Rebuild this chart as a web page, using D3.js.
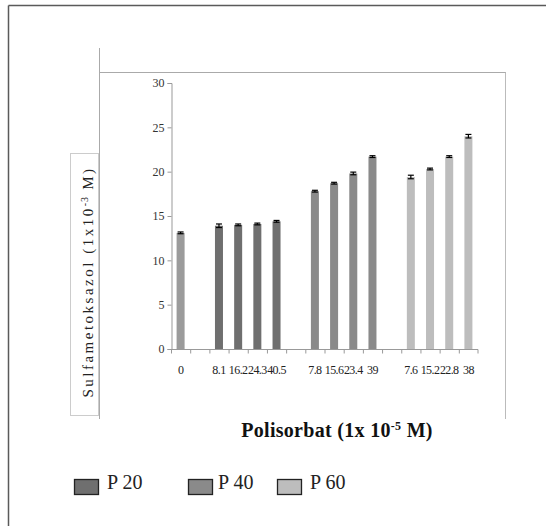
<!DOCTYPE html>
<html>
<head>
<meta charset="utf-8">
<script src="https://cdn.jsdelivr.net/npm/d3@7"></script>
<style>
  body { margin: 0; background: #fff; }
</style>
</head>
<body>
<svg id="chart" width="546" height="526"></svg>
<script>
var SERIF = "'Liberation Serif', 'DejaVu Serif', serif";

// categories on the x axis (blank ones are the gaps between groups)
var categories = ["c0", "g1", "a1", "a2", "a3", "a4", "g2", "b1", "b2", "b3", "b4", "g3", "d1", "d2", "d3", "d4"];
var tickLabels = ["0", "", "8.1", "16.2", "24.3", "40.5", "", "7.8", "15.6", "23.4", "39", "", "7.6", "15.2", "22.8", "38"];
var series = ["control", "", "P 20", "P 20", "P 20", "P 20", "", "P 40", "P 40", "P 40", "P 40", "", "P 60", "P 60", "P 60", "P 60"];
var values = [13.1, null, 13.9, 14.0, 14.1, 14.4, null, 17.8, 18.7, 19.8, 21.7, null, 19.4, 20.3, 21.7, 24.0];
var errors = [0.1, null, 0.2, 0.1, 0.1, 0.1, null, 0.1, 0.1, 0.15, 0.1, null, 0.2, 0.1, 0.1, 0.2];
var yTicks = [0, 5, 10, 15, 20, 25, 30];
var legendNames = ["P 20", "P 40", "P 60"];

var colors = { "control": "#9b9b9b", "P 20": "#6f6f6f", "P 40": "#8a8a8a", "P 60": "#bdbdbd" };

var svg = d3.select("#chart").attr("font-family", SERIF);

// outer frame (top and left edges)
svg.append("line")
    .attr("x1", 8.5).attr("y1", 5.5).attr("x2", 546).attr("y2", 5.5)
    .attr("stroke", "#5a5a5a").attr("stroke-width", 1.5);
svg.append("line")
    .attr("x1", 8.5).attr("y1", 5.5).attr("x2", 8.5).attr("y2", 526)
    .attr("stroke", "#5a5a5a").attr("stroke-width", 1.5);

// chart area frame
svg.append("line")
    .attr("x1", 99.5).attr("y1", 48).attr("x2", 99.5).attr("y2", 419)
    .attr("stroke", "#aaa");
svg.append("line")
    .attr("x1", 99.5).attr("y1", 72.5).attr("x2", 506).attr("y2", 72.5)
    .attr("stroke", "#aaa");
svg.append("line")
    .attr("x1", 505.5).attr("y1", 72.5).attr("x2", 505.5).attr("y2", 419)
    .attr("stroke", "#bbb");

var xb = d3.scaleBand().domain(categories).range([171, 478]);

var y = d3.scaleLinear()
    .domain([0, 30])
    .range([349, 83]);

// y axis
var yAxis = svg.append("g")
    .attr("transform", "translate(171.5,0)")
    .call(d3.axisLeft(y).tickValues(yTicks).tickSize(4).tickPadding(3));
yAxis.attr("font-family", SERIF).attr("font-size", 12);
yAxis.select(".domain").attr("stroke", "#999");
yAxis.selectAll(".tick line").attr("stroke", "#999");
yAxis.selectAll(".tick text").attr("fill", "#333");

// bars
var data = categories.map(function(c, i) {
  return { cat: c, v: values[i], e: errors[i], s: series[i] };
}).filter(function(d) { return d.v != null; });

svg.selectAll("rect.bar")
    .data(data)
    .enter().append("rect")
    .attr("class", "bar")
    .attr("x", function(d) { return xb(d.cat) + xb.bandwidth() / 2 - 4; })
    .attr("width", 8)
    .attr("y", function(d) { return y(d.v); })
    .attr("height", function(d) { return y(0) - y(d.v); })
    .attr("fill", function(d) { return colors[d.s]; });

// error bars
var eb = svg.selectAll("g.err")
    .data(data)
    .enter().append("g")
    .attr("class", "err")
    .attr("transform", function(d) { return "translate(" + (xb(d.cat) + xb.bandwidth() / 2) + ",0)"; });
eb.append("line")
    .attr("x1", 0).attr("x2", 0)
    .attr("y1", function(d) { return y(d.v + d.e); })
    .attr("y2", function(d) { return y(d.v - d.e); })
    .attr("stroke", "#000").attr("stroke-width", 1.2);
eb.append("line")
    .attr("x1", -3).attr("x2", 3)
    .attr("y1", function(d) { return y(d.v + d.e); })
    .attr("y2", function(d) { return y(d.v + d.e); })
    .attr("stroke", "#000").attr("stroke-width", 1.2);
eb.append("line")
    .attr("x1", -3).attr("x2", 3)
    .attr("y1", function(d) { return y(d.v - d.e); })
    .attr("y2", function(d) { return y(d.v - d.e); })
    .attr("stroke", "#000").attr("stroke-width", 1.2);

// x axis
var xAxisG = svg.append("g").attr("transform", "translate(0,349.5)");
xAxisG.append("line")
    .attr("x1", 171).attr("x2", 478)
    .attr("stroke", "#999");
xAxisG.selectAll("line.tk")
    .data(categories.concat(["end"]))
    .enter().append("line")
    .attr("class", "tk")
    .attr("x1", function(d) { return d === "end" ? 478 : xb(d) + 0.5; })
    .attr("x2", function(d) { return d === "end" ? 478 : xb(d) + 0.5; })
    .attr("y1", 0).attr("y2", 4)
    .attr("stroke", "#999");
xAxisG.selectAll("text.lbl")
    .data(categories)
    .enter().append("text")
    .attr("class", "lbl")
    .attr("x", function(d) { return xb(d) + xb.bandwidth() / 2; })
    .attr("y", 24)
    .attr("text-anchor", "middle")
    .attr("fill", "#222")
    .attr("font-size", 12)
    .attr("letter-spacing", -0.6)
    .text(function(d, i) { return tickLabels[i]; });

// x axis title
var xt = svg.append("text")
    .attr("x", 337)
    .attr("y", 437)
    .attr("text-anchor", "middle")
    .attr("fill", "#111")
    .attr("font-size", 20)
    .attr("letter-spacing", 0.3)
    .attr("font-weight", "bold");
xt.append("tspan").text("Polisorbat (1x 10");
xt.append("tspan").attr("dy", -7).attr("font-size", 12).text("-5");
xt.append("tspan").attr("dy", 7).text(" M)");

// y axis title in a box
svg.append("rect")
    .attr("x", 70.5).attr("y", 153.5)
    .attr("width", 28).attr("height", 262)
    .attr("fill", "#fff")
    .attr("stroke", "#ccc");
var yt = svg.append("text")
    .attr("transform", "translate(93,282) rotate(-90)")
    .attr("text-anchor", "middle")
    .attr("fill", "#222")
    .attr("font-size", 15)
    .attr("letter-spacing", 2.5);
yt.append("tspan").text("Sulfametoksazol (1x10");
yt.append("tspan").attr("dy", -5).attr("font-size", 10).attr("letter-spacing", 1).text("-3");
yt.append("tspan").attr("dy", 5).text(" M)");

// legend
var legX = [74, 188, 277];
var leg = svg.selectAll("g.leg")
    .data(legendNames)
    .enter().append("g")
    .attr("class", "leg")
    .attr("transform", function(d, i) { return "translate(" + legX[i] + ",479)"; });
leg.append("rect")
    .attr("x", 0.5).attr("y", 0.5)
    .attr("width", 24).attr("height", 15)
    .attr("fill", function(d) { return colors[d]; })
    .attr("stroke", "#222").attr("stroke-width", 1.3);
leg.append("text")
    .attr("x", function(d, i) { return i === 1 ? 30 : 33; })
    .attr("y", 10)
    .attr("fill", "#222")
    .attr("font-size", 20)
    .text(function(d) { return d; });
</script>
</body>
</html>
